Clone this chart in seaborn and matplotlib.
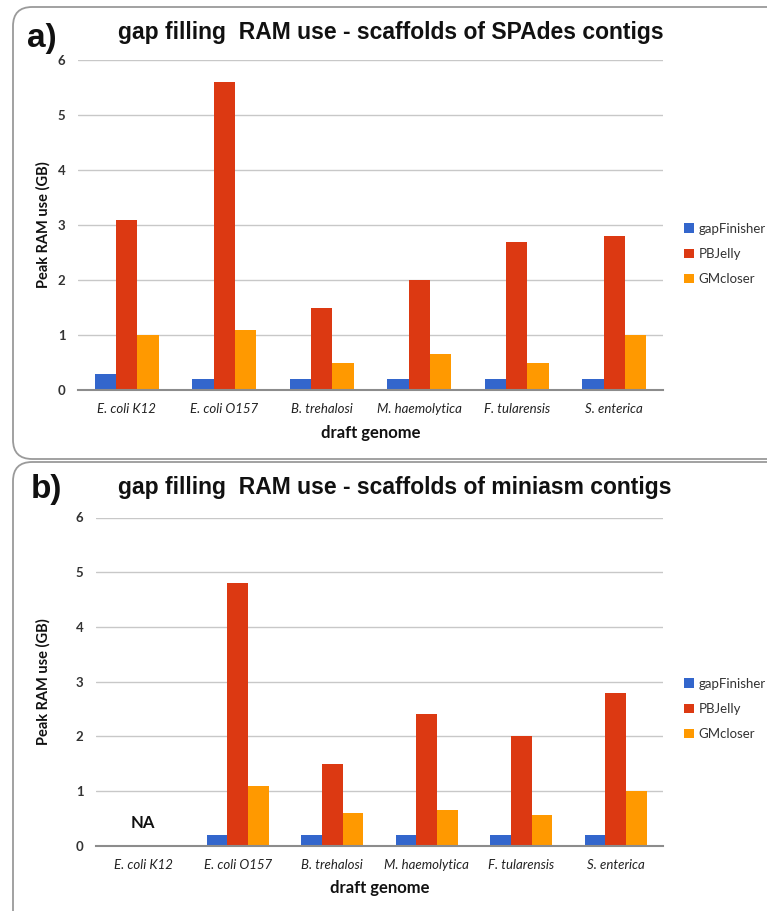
import numpy as np
import pandas as pd
import matplotlib
matplotlib.use("Agg")
import matplotlib.pyplot as plt
import seaborn as sns
from matplotlib.patches import FancyBboxPatch
from matplotlib.ticker import FixedLocator, NullFormatter

# categories / series
genomes = ["E. coli K12", "E. coli O157", "B. trehalosi", "M. haemolytica", "F. tularensis", "S. enterica"]
tools = ["gapFinisher", "PBJelly", "GMcloser"]

# a) scaffolds of SPAdes contigs
spades_gapfinisher = [0.3, 0.2, 0.2, 0.2, 0.2, 0.2]
spades_pbjelly = [3.1, 5.6, 1.5, 2.0, 2.7, 2.8]
spades_gmcloser = [1.0, 1.1, 0.5, 0.65, 0.5, 1.0]

# b) scaffolds of miniasm contigs (E. coli K12 not available)
miniasm_gapfinisher = [np.nan, 0.2, 0.2, 0.2, 0.2, 0.2]
miniasm_pbjelly = [np.nan, 4.8, 1.5, 2.4, 2.0, 2.8]
miniasm_gmcloser = [np.nan, 1.1, 0.6, 0.65, 0.57, 1.0]

yticks = [0, 1, 2, 3, 4, 5, 6]
colors = ["#3366CC", "#DC3912", "#FF9900"]

W, H = 767, 911
sns.set_style("white")
plt.rcParams['font.family'] = ['Lato', 'DejaVu Sans']


def long_table(a, b, c):
    return pd.DataFrame({
        "genome": genomes * 3,
        "tool": [tools[0]] * 6 + [tools[1]] * 6 + [tools[2]] * 6,
        "ram": list(a) + list(b) + list(c),
    })


def px_rect(left, top, right, bottom):
    return [left / W, 1 - bottom / H, (right - left) / W, (bottom - top) / H]


fig = plt.figure(figsize=(W / 100, H / 100), dpi=100)

# rounded panel frames
for top, bottom in [(7, 459), (462, 930)]:
    box = FancyBboxPatch((13 / W, 1 - bottom / H), (800 - 13) / W, (bottom - top) / H,
                         boxstyle="round,pad=0,rounding_size=0.025",
                         transform=fig.transFigure, fc="white", ec="#9a9a9a", lw=1.3,
                         mutation_aspect=W / H, zorder=-5)
    fig.patches.append(box)

panels = [
    dict(letter="a)", title="gap filling  RAM use - scaffolds of SPAdes contigs",
         data=long_table(spades_gapfinisher, spades_pbjelly, spades_gmcloser),
         rect=(78, 60, 663, 390), xlabel_y=433, title_y=33, letter_xy=(27, 38), legend_y=254),
    dict(letter="b)", title="gap filling  RAM use - scaffolds of miniasm contigs",
         data=long_table(miniasm_gapfinisher, miniasm_pbjelly, miniasm_gmcloser),
         rect=(96, 517.5, 663, 845.7), xlabel_y=888, title_y=488, letter_xy=(31, 489), legend_y=709),
]

for p in panels:
    l, t, r, b = p["rect"]
    ax = fig.add_axes(px_rect(l, t, r, b))
    ax.patch.set_alpha(0)
    sns.barplot(data=p["data"], x="genome", y="ram", hue="tool", order=genomes,
                hue_order=tools, palette=colors, width=0.66, errorbar=None,
                saturation=1, linewidth=0, edgecolor="none", ax=ax)
    ax.set_xlim(-0.5, 5.5)
    ax.set_ylim(0, 6)
    ax.set_yticks(yticks)
    ax.yaxis.grid(True, color="#c8c8c8", lw=1)
    ax.set_axisbelow(True)
    for s in ["top", "right", "left"]:
        ax.spines[s].set_visible(False)
    ax.spines["bottom"].set_color("#8c8c8c")
    ax.spines["bottom"].set_linewidth(1.5)
    ax.spines["bottom"].set_zorder(5)

    # separators as major ticks, category names on minor ticks
    ax.xaxis.set_major_locator(FixedLocator(np.arange(-0.5, 6, 1)))
    ax.xaxis.set_major_formatter(NullFormatter())
    ax.xaxis.set_minor_locator(FixedLocator(np.arange(6)))
    ax.set_xticklabels(genomes, minor=True, fontstyle="italic", fontsize=9.5, color="#222222")
    ax.tick_params(axis="x", which="both", direction="inout", length=7, width=1.3,
                   color="#8c8c8c", pad=6)
    ax.tick_params(axis="y", length=0, pad=9, labelsize=9.5, labelcolor="#333333")
    for lab in ax.get_yticklabels():
        lab.set_fontweight("bold")

    ax.set_xlabel("draft genome", fontsize=12, fontweight="bold", color="#111111")
    ax.xaxis.set_label_coords(0.5, (b - p["xlabel_y"]) / (b - t))
    ax.xaxis.label.set_va("center")
    ax.set_ylabel("Peak RAM use (GB)", fontsize=10.5, fontweight="bold", color="#111111")
    ax.yaxis.set_label_coords((43 - l) / (r - l), 0.5)
    ax.yaxis.label.set_va("center")

    handles, labels = ax.get_legend_handles_labels()
    ax.legend(handles, labels, loc="center left", bbox_to_anchor=(684 / W, 1 - p["legend_y"] / H),
              bbox_transform=fig.transFigure, frameon=False, fontsize=9.5,
              handlelength=0.75, handleheight=0.75, handletextpad=0.35, labelspacing=1.0,
              labelcolor="#333333", borderpad=0, borderaxespad=0)

    if p["letter"] == "b)":
        ax.text(0, 0.42, "NA", ha="center", va="center", fontsize=12, fontweight="bold",
                color="#111111")

    fig.text(118 / W, 1 - p["title_y"] / H, p["title"], ha="left", va="center",
             fontsize=16.5, fontweight="bold", family=["Liberation Sans", "DejaVu Sans"],
             color="#111111")
    fig.text(p["letter_xy"][0] / W, 1 - p["letter_xy"][1] / H, p["letter"], ha="left",
             va="center", fontsize=24, fontweight="bold", family=["Liberation Sans", "DejaVu Sans"],
             color="#111111")

fig.savefig("out.png", dpi=100)
